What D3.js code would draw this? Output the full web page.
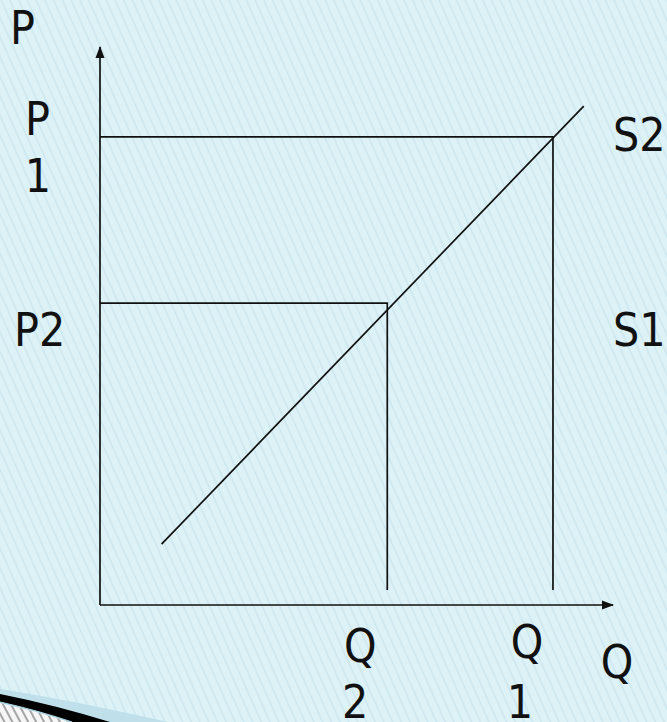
<!DOCTYPE html>
<html>
<head>
<meta charset="utf-8">
<script src="https://cdn.jsdelivr.net/npm/d3@7"></script>
<style>
  html, body { margin: 0; padding: 0; background: #ddf2f7; }
  svg { display: block; }
  text { font-family: "DejaVu Sans", sans-serif; font-size: 46px; fill: #111; }
</style>
</head>
<body>
<script>
// price / quantity values, in axis units (0..100)
const qPoints = [88.3, 56];          // Q1, Q2
const pPoints = [83.9, 54.1];        // P1, P2
const pointNames = ['1', '2'];
const supplyQ = [12, 94.3];          // ends of the supply line
const supplyP = [10.9, 89.4];
const supplyNames = ['S2', 'S1'];
const dropFloor = 2.7;               // where the vertical guides stop
const axisMax = 100;

const W = 667, H = 722;

const svg = d3.select('body').append('svg')
    .attr('width', W)
    .attr('height', H);

const x = d3.scaleLinear().domain([0, axisMax]).range([100, 613]);
const y = d3.scaleLinear().domain([0, axisMax]).range([605, 47]);

//
// background: light blue with thin diagonal hatching
//
const defs = svg.append('defs');

const hatch = defs.append('pattern')
    .attr('id', 'hatch')
    .attr('patternUnits', 'userSpaceOnUse')
    .attr('width', 8)
    .attr('height', 8)
    .attr('patternTransform', 'rotate(-24)');
hatch.append('rect').attr('width', 8).attr('height', 8).attr('fill', '#ddf2f7');
hatch.append('line')
    .attr('x1', 1).attr('y1', 0).attr('x2', 1).attr('y2', 8)
    .attr('stroke', '#cae5ed').attr('stroke-width', 1.3);

const hatchGrey = defs.append('pattern')
    .attr('id', 'hatchGrey')
    .attr('patternUnits', 'userSpaceOnUse')
    .attr('width', 7)
    .attr('height', 7)
    .attr('patternTransform', 'rotate(-28)');
hatchGrey.append('rect').attr('width', 7).attr('height', 7).attr('fill', '#f6f6f6');
hatchGrey.append('line')
    .attr('x1', 1).attr('y1', 0).attr('x2', 1).attr('y2', 7)
    .attr('stroke', '#8a8a8a').attr('stroke-width', 1.5);

svg.append('rect')
    .attr('width', W).attr('height', H)
    .attr('fill', 'url(#hatch)');

// swoosh in the lower left corner
const corner = svg.append('g');
corner.append('path')
    .attr('d', 'M0,689 Q70,700 168,722 L0,722 Z')
    .attr('fill', '#bfe0ea');
corner.append('path')
    .attr('d', 'M0,703 Q35,711 70,722 L0,722 Z')
    .attr('fill', 'url(#hatchGrey)');
corner.append('path')
    .attr('d', 'M0,694 Q55,705 110,722 L72,722 Q36,710 0,702 Z')
    .attr('fill', '#000');
corner.append('path')
    .attr('d', 'M0,702 Q36,710 72,722')
    .attr('fill', 'none')
    .attr('stroke', '#a9d5e2')
    .attr('stroke-width', 1.2);

//
// axes with arrow heads
//
defs.append('marker')
    .attr('id', 'arrow')
    .attr('viewBox', '0 0 12 10')
    .attr('refX', 11)
    .attr('refY', 5)
    .attr('markerUnits', 'userSpaceOnUse')
    .attr('markerWidth', 12)
    .attr('markerHeight', 10)
    .attr('orient', 'auto')
  .append('path')
    .attr('d', 'M0,0.5 L12,5 L0,9.5 Z')
    .attr('fill', '#111');

const ink = '#111';
const lw = 1.7;

svg.append('line')
    .attr('x1', x(0)).attr('y1', y(0))
    .attr('x2', x(0)).attr('y2', y(axisMax))
    .attr('stroke', ink).attr('stroke-width', lw)
    .attr('marker-end', 'url(#arrow)');

svg.append('line')
    .attr('x1', x(0)).attr('y1', y(0))
    .attr('x2', x(axisMax)).attr('y2', y(0))
    .attr('stroke', ink).attr('stroke-width', lw)
    .attr('marker-end', 'url(#arrow)');

//
// guide lines: from the P axis across, then down towards the Q axis
//
const guides = svg.append('g')
    .attr('fill', 'none')
    .attr('stroke', ink)
    .attr('stroke-width', lw);

qPoints.forEach((q, i) => {
  guides.append('path')
      .attr('d', d3.line()([
        [x(0), y(pPoints[i])],
        [x(q), y(pPoints[i])],
        [x(q), y(dropFloor)]
      ]));
});

// supply line
svg.append('path')
    .attr('d', d3.line()(supplyQ.map((q, i) => [x(q), y(supplyP[i])])))
    .attr('fill', 'none')
    .attr('stroke', ink)
    .attr('stroke-width', lw);

//
// labels (the slide font is a bit narrower than DejaVu, so squeeze it)
//
const squeeze = 0.9;
const label = (str, lx, ly, anchor) => svg.append('text')
    .attr('transform', `translate(${lx},${ly}) scale(${squeeze},1)`)
    .attr('text-anchor', anchor || 'start')
    .text(str);

label('P', 10, 44);
label('Q', x(axisMax) + 4, 678, 'middle');

// P1 wraps onto two lines, P2 fits on one
label('P', 25, 135);
label(pointNames[0], 38, 192, 'middle');
label('P' + pointNames[1], 14, 346);

// Q1 / Q2 both wrap onto two lines
const qLabelY = [658, 662];
const qLabelDx = [-26, -27];
const qDigitDx = [-33, -32];
qPoints.forEach((q, i) => {
  label('Q', x(q) + qLabelDx[i], qLabelY[i], 'middle');
  label(pointNames[i], x(q) + qDigitDx[i], 718, 'middle');
});

// supply curve names, level with P1 / P2 text rows
label(supplyNames[0], 613, 151);
label(supplyNames[1], 613, 346);
</script>
</body>
</html>
